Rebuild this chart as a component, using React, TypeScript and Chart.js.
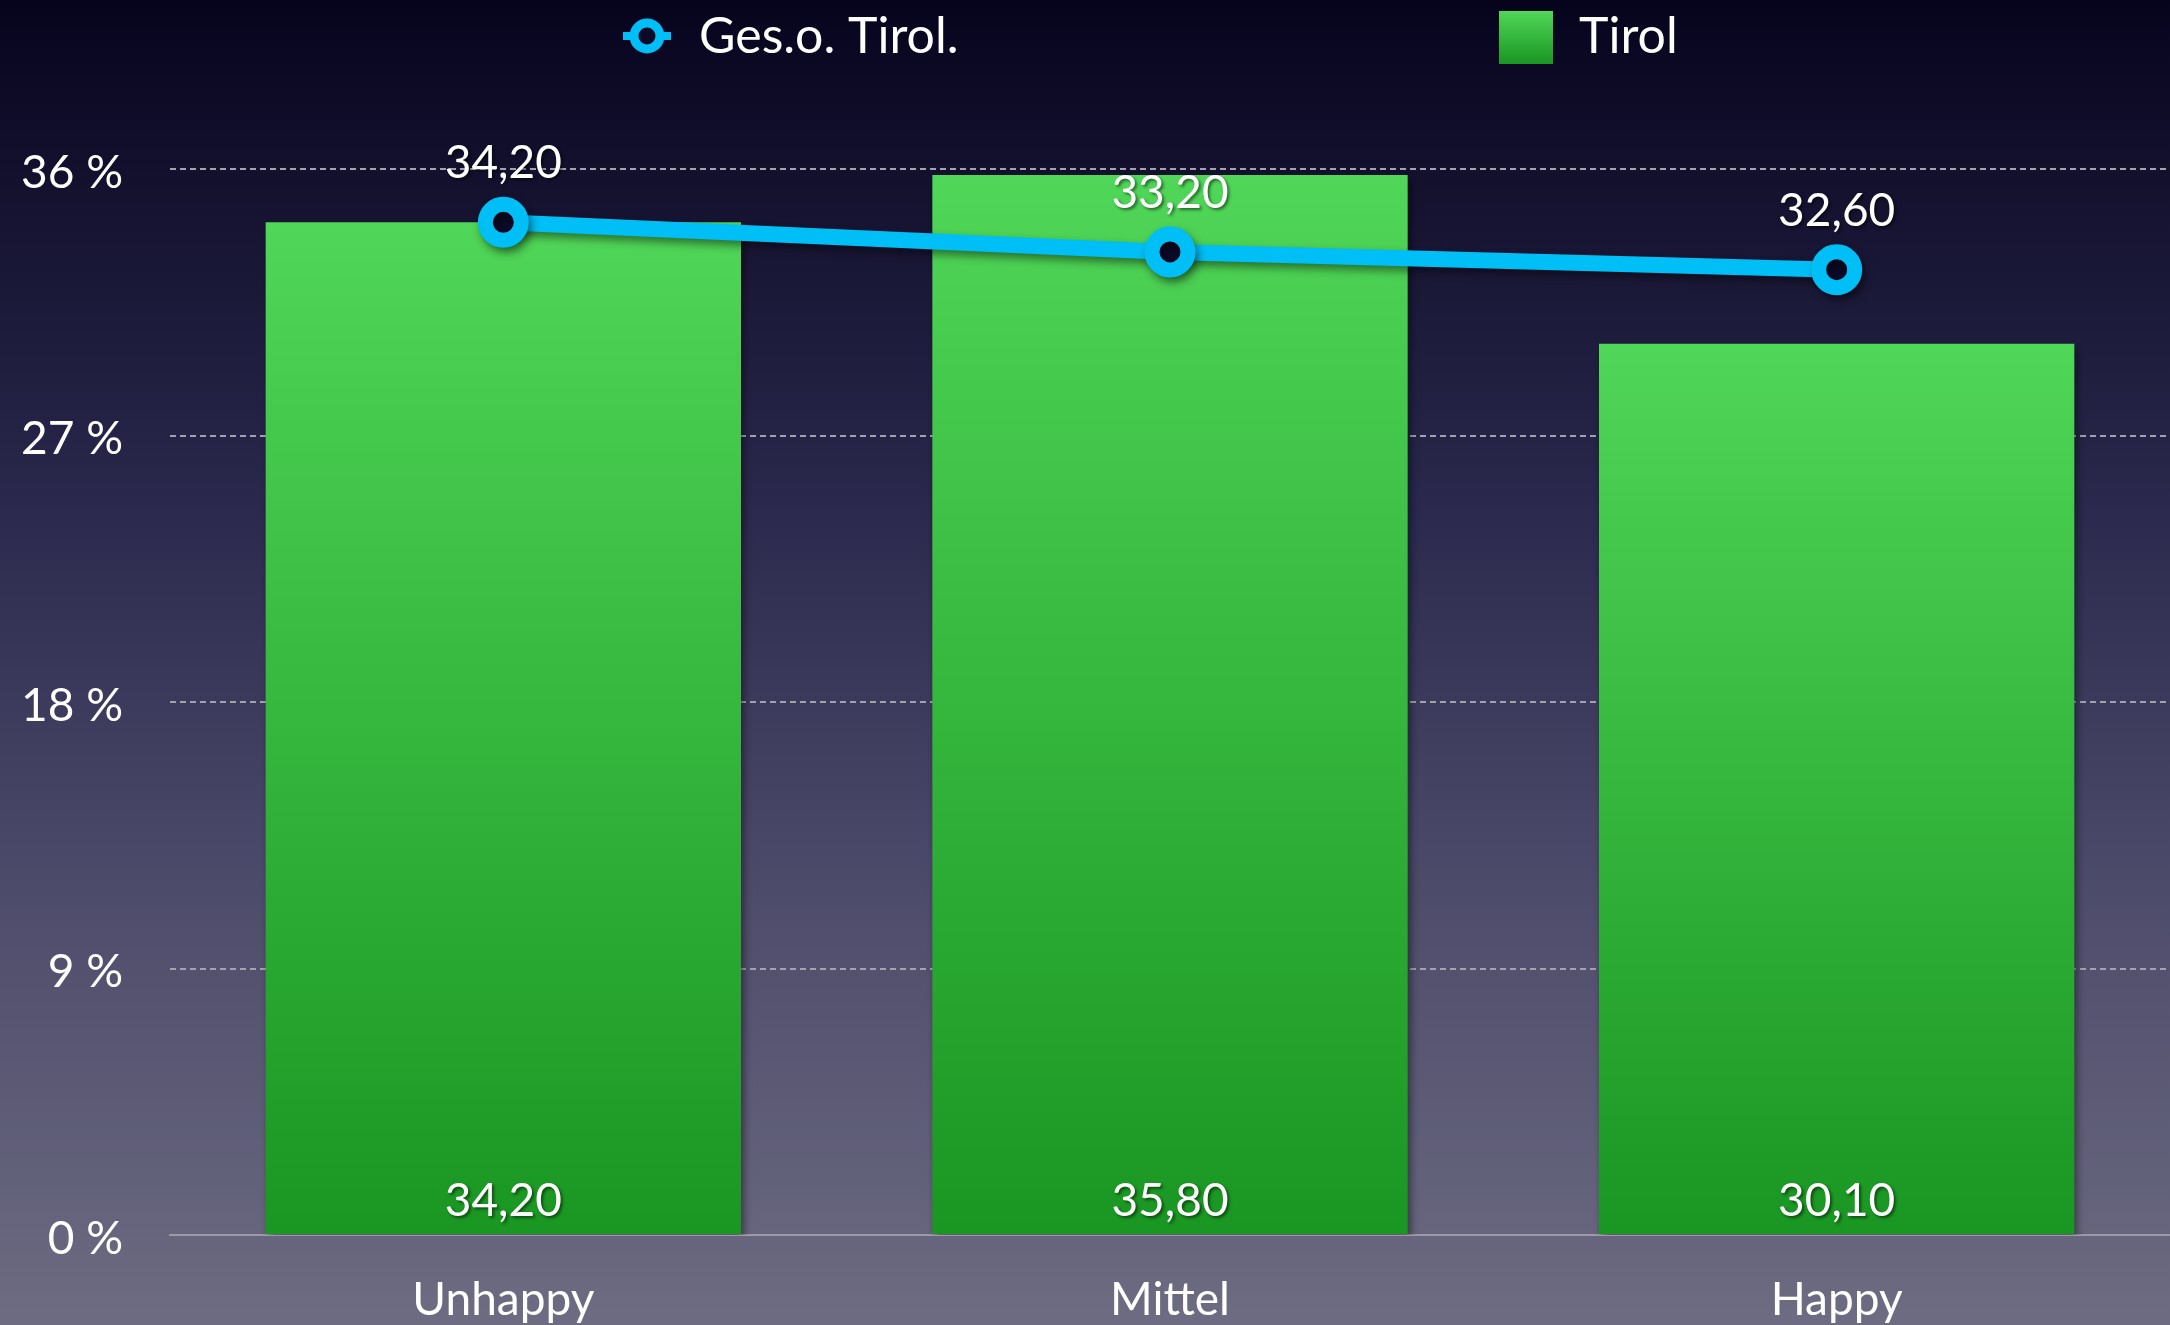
import React, { useEffect, useRef } from "react";
import { Chart, registerables } from "chart.js";

Chart.register(...registerables);

const categories = ["Unhappy", "Mittel", "Happy"];
const tirolValues = [34.2, 35.8, 30.1];
const gesValues = [34.2, 33.2, 32.6];
const yTickValues = [0, 9, 18, 27, 36];
const seriesNames = ["Ges.o. Tirol.", "Tirol"];

const W = 2170;
const H = 1325;
const FONT = "Lato, 'Open Sans', sans-serif";
const LINE_COLOR = "#00bff6";
const HOLE_COLOR = "#0b0a28";
const BAR_TOP = "#50d658";
const BAR_BOTTOM = "#1a9622";
const TEXT_SIZE = 46;
const LEGEND_SIZE = 50;

const fmt = (v: number) => v.toFixed(2).replace(".", ",");

const backgroundPlugin = {
  id: "bgGradient",
  beforeDraw(chart: any) {
    const ctx = chart.ctx;
    const g = ctx.createLinearGradient(0, 0, 0, chart.height);
    g.addColorStop(0, "#06041d");
    g.addColorStop(0.38, "#2a284c");
    g.addColorStop(0.64, "#4a4868");
    g.addColorStop(1, "#6d6c82");
    ctx.save();
    ctx.fillStyle = g;
    ctx.fillRect(0, 0, chart.width, chart.height);
    ctx.restore();
  },
};

const shadowPlugin = {
  id: "dsShadow",
  beforeDatasetDraw(chart: any) {
    const ctx = chart.ctx;
    ctx.save();
    ctx.shadowColor = "rgba(0,0,0,0.45)";
    ctx.shadowBlur = 8;
    ctx.shadowOffsetX = 3;
    ctx.shadowOffsetY = 5;
  },
  afterDatasetDraw(chart: any) {
    chart.ctx.restore();
  },
};

const labelsPlugin = {
  id: "valueLabels",
  afterDatasetsDraw(chart: any) {
    const ctx = chart.ctx;
    ctx.save();
    ctx.font = `${TEXT_SIZE}px ${FONT}`;
    ctx.fillStyle = "#ffffff";
    ctx.textAlign = "center";
    ctx.textBaseline = "middle";
    ctx.shadowColor = "rgba(0,0,0,0.5)";
    ctx.shadowBlur = 3;
    ctx.shadowOffsetX = 2;
    ctx.shadowOffsetY = 2;
    const bottom = chart.scales.y.bottom;
    chart.getDatasetMeta(1).data.forEach((el: any, i: number) => {
      ctx.fillText(fmt(tirolValues[i]), el.x, bottom - 34);
    });
    chart.getDatasetMeta(0).data.forEach((el: any, i: number) => {
      ctx.fillText(fmt(gesValues[i]), el.x, el.y - 59);
    });
    ctx.restore();
  },
};

const legendPlugin = {
  id: "customLegend",
  afterDraw(chart: any) {
    const ctx = chart.ctx;
    ctx.save();
    const cy = 36;
    ctx.strokeStyle = LINE_COLOR;
    ctx.lineWidth = 8;
    ctx.beginPath();
    ctx.moveTo(623, cy);
    ctx.lineTo(671, cy);
    ctx.stroke();
    ctx.beginPath();
    ctx.arc(647, cy, 13, 0, Math.PI * 2);
    ctx.fillStyle = HOLE_COLOR;
    ctx.fill();
    ctx.lineWidth = 9;
    ctx.stroke();
    const g = ctx.createLinearGradient(0, 11, 0, 64);
    g.addColorStop(0, BAR_TOP);
    g.addColorStop(1, BAR_BOTTOM);
    ctx.fillStyle = g;
    ctx.fillRect(1499, 11, 54, 53);
    ctx.font = `${LEGEND_SIZE}px ${FONT}`;
    ctx.fillStyle = "#ffffff";
    ctx.textAlign = "left";
    ctx.textBaseline = "middle";
    ctx.fillText(seriesNames[0], 699, cy + 1);
    ctx.fillText(seriesNames[1], 1579, cy + 1);
    ctx.restore();
  },
};

export default function App() {
  const ref = useRef<HTMLCanvasElement | null>(null);

  useEffect(() => {
    if (!ref.current) return;
    const chart = new Chart(ref.current, {
      type: "bar",
      data: {
        labels: categories,
        datasets: [
          {
            type: "line",
            label: seriesNames[0],
            data: gesValues,
            order: 0,
            borderColor: LINE_COLOR,
            borderWidth: 16,
            tension: 0,
            pointRadius: 18,
            pointBorderWidth: 15,
            pointBackgroundColor: HOLE_COLOR,
            pointBorderColor: LINE_COLOR,
            fill: false,
          } as any,
          {
            type: "bar",
            label: seriesNames[1],
            data: tirolValues,
            order: 1,
            categoryPercentage: 1,
            barPercentage: 0.713,
            backgroundColor: (c: any) => {
              const chart = c.chart;
              const area = chart.chartArea;
              if (!area || c.type !== "data" || !chart.scales.y) return BAR_TOP;
              const yTop = chart.scales.y.getPixelForValue(c.parsed.y);
              const g = chart.ctx.createLinearGradient(0, yTop, 0, area.bottom);
              g.addColorStop(0, BAR_TOP);
              g.addColorStop(1, BAR_BOTTOM);
              return g;
            },
          } as any,
        ],
      },
      options: {
        responsive: false,
        animation: false,
        events: [],
        layout: { autoPadding: false, padding: { top: 169, left: 0, right: 0, bottom: 0 } },
        plugins: {
          legend: { display: false },
          tooltip: { enabled: false },
        },
        scales: {
          x: {
            grid: { display: false, drawTicks: false },
            border: { display: true, color: "#9b9aa6", width: 2 },
            ticks: {
              color: "#ffffff",
              font: { family: FONT, size: TEXT_SIZE },
              padding: 38,
            },
            afterFit: (s: any) => {
              s.height = 90;
              s.paddingLeft = 0;
              s.paddingRight = 0;
            },
          },
          y: {
            min: 0,
            max: 36,
            afterBuildTicks: (s: any) => {
              s.ticks = yTickValues.map((v) => ({ value: v }));
            },
            grid: {
              drawTicks: false,
              color: (c: any) => (c.tick && c.tick.value === 0 ? "rgba(0,0,0,0)" : "#a3a2ad"),
              lineWidth: 2,
            },
            border: { display: false, dash: [6, 4] },
            ticks: {
              color: "#ffffff",
              font: { family: FONT, size: TEXT_SIZE },
              padding: 47,
              labelOffset: 4,
              callback: (v: any) => `${v} %`,
            },
            afterFit: (s: any) => {
              s.width = 170;
            },
          },
        },
      },
      plugins: [backgroundPlugin, shadowPlugin, labelsPlugin, legendPlugin],
    });
    return () => chart.destroy();
  }, []);

  return (
    <div style={{ position: "fixed", left: 0, top: 0, width: W, height: H }}>
      <canvas ref={ref} width={W} height={H} style={{ width: W, height: H, display: "block" }} />
    </div>
  );
}
